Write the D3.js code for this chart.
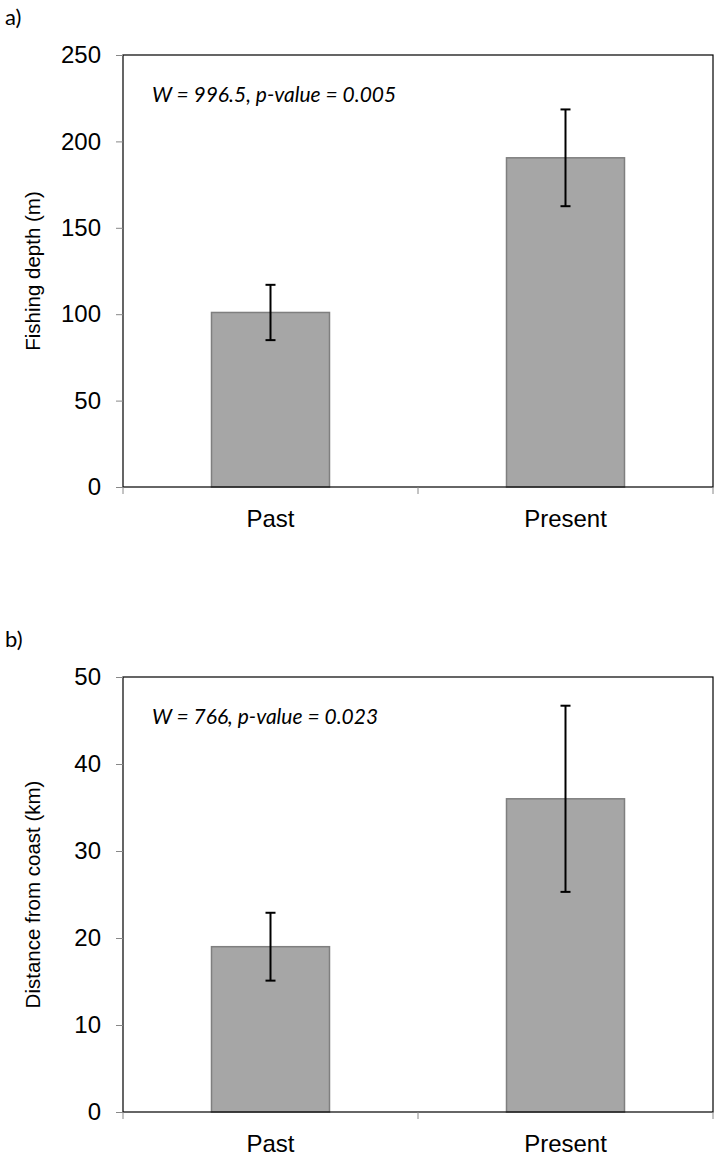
<!DOCTYPE html>
<html>
<head>
<meta charset="utf-8">
<script src="https://cdn.jsdelivr.net/npm/d3@7"></script>
<style>
  body { margin: 0; background: #fff; }
  svg text { fill: #000; }
</style>
</head>
<body>
<div id="chart"></div>
<script>
// chart values
var categories = ['Past', 'Present'];

var depthMean = [101, 190.5];
var depthErr = [16, 28];
var depthTicks = [0, 50, 100, 150, 200, 250];

var distMean = [19, 36];
var distErr = [3.9, 10.7];
var distTicks = [0, 10, 20, 30, 40, 50];

var panels = [
  { tag: 'a)', label: 'Fishing depth (m)', note: 'W = 996.5, p-value = 0.005',
    mean: depthMean, err: depthErr, ticks: depthTicks, top: 55, bottom: 487 },
  { tag: 'b)', label: 'Distance from coast (km)', note: 'W = 766, p-value = 0.023',
    mean: distMean, err: distErr, ticks: distTicks, top: 677, bottom: 1112 }
];

var W = 721, H = 1156;
var left = 123, right = 713;

var svg = d3.select('#chart').append('svg')
  .attr('width', W).attr('height', H);

panels.forEach(function (p) {
  var y = d3.scaleLinear()
    .domain([0, d3.max(p.ticks)])
    .range([p.bottom, p.top]);
  var x = d3.scaleBand()
    .domain(categories)
    .range([left, right])
    .paddingInner(0.6).paddingOuter(0.3);

  var g = svg.append('g');

  // panel tag
  g.append('text')
    .attr('x', 5).attr('y', p.top - 30)
    .style('font-family', 'Lato, "Open Sans", sans-serif')
    .style('font-size', '22px')
    .text(p.tag);

  // bars
  g.selectAll('rect.bar')
    .data(p.mean)
    .enter().append('rect')
    .attr('class', 'bar')
    .attr('x', function (d, i) { return x(categories[i]); })
    .attr('width', x.bandwidth())
    .attr('y', function (d) { return y(d); })
    .attr('height', function (d) { return y(0) - y(d); })
    .attr('fill', '#a6a6a6')
    .attr('stroke', '#7f7f7f')
    .attr('stroke-width', 1.5);

  // error bars
  var eb = g.selectAll('g.err')
    .data(p.mean)
    .enter().append('g')
    .attr('class', 'err')
    .attr('stroke', '#000')
    .attr('stroke-width', 2);
  eb.append('line')
    .attr('x1', function (d, i) { return x(categories[i]) + x.bandwidth() / 2; })
    .attr('x2', function (d, i) { return x(categories[i]) + x.bandwidth() / 2; })
    .attr('y1', function (d, i) { return y(d + p.err[i]); })
    .attr('y2', function (d, i) { return y(d - p.err[i]); });
  [1, -1].forEach(function (s) {
    eb.append('line')
      .attr('x1', function (d, i) { return x(categories[i]) + x.bandwidth() / 2 - 5; })
      .attr('x2', function (d, i) { return x(categories[i]) + x.bandwidth() / 2 + 5; })
      .attr('y1', function (d, i) { return y(d + s * p.err[i]); })
      .attr('y2', function (d, i) { return y(d + s * p.err[i]); });
  });

  // frame
  g.append('rect')
    .attr('x', left).attr('y', p.top)
    .attr('width', right - left).attr('height', p.bottom - p.top)
    .attr('fill', 'none')
    .attr('stroke', '#000')
    .attr('stroke-width', 1.2);

  // y axis
  var yAxis = g.append('g')
    .attr('transform', 'translate(' + left + ',0)')
    .call(d3.axisLeft(y).tickValues(p.ticks).tickSize(7).tickPadding(15));
  yAxis.select('.domain').remove();
  yAxis.selectAll('.tick line').attr('stroke', '#888');
  yAxis.selectAll('.tick text')
    .style('font-family', 'Arial, "Liberation Sans", sans-serif')
    .style('font-size', '24px');

  // x axis: ticks at category boundaries
  var xAxis = g.append('g')
    .attr('transform', 'translate(0,' + p.bottom + ')');
  xAxis.selectAll('line')
    .data([left, (left + right) / 2, right])
    .enter().append('line')
    .attr('x1', function (d) { return d; })
    .attr('x2', function (d) { return d; })
    .attr('y1', 0).attr('y2', 7)
    .attr('stroke', '#888');
  xAxis.selectAll('text')
    .data(categories)
    .enter().append('text')
    .attr('x', function (d) { return x(d) + x.bandwidth() / 2; })
    .attr('y', 40)
    .attr('text-anchor', 'middle')
    .style('font-family', 'Arial, "Liberation Sans", sans-serif')
    .style('font-size', '24px')
    .text(function (d) { return d; });

  // y label
  g.append('text')
    .attr('transform', 'translate(40,' + (p.top + p.bottom) / 2 + ') rotate(-90)')
    .attr('text-anchor', 'middle')
    .style('font-family', 'Arial, "Liberation Sans", sans-serif')
    .style('font-size', '20.5px')
    .text(p.label);

  // test statistic
  g.append('text')
    .attr('x', 152).attr('y', p.top + 47)
    .style('font-family', 'Lato, "Open Sans", sans-serif')
    .style('font-style', 'italic')
    .style('font-size', '21px')
    .text(p.note);
});
</script>
</body>
</html>
